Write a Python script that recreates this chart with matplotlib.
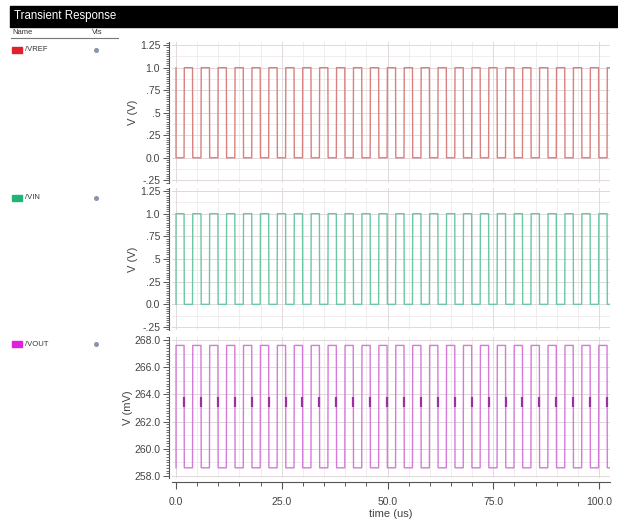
import matplotlib
matplotlib.use("Agg")
import matplotlib.pyplot as plt
from matplotlib.patches import Rectangle
from matplotlib.ticker import MultipleLocator, FuncFormatter

# toggle times of the clock edges (us)
edge_times = [1.9, 3.9, 5.9, 7.9, 9.9, 11.9, 13.9, 15.9, 17.9, 19.9,
              21.9, 23.9, 25.9, 27.9, 29.9, 31.9, 33.9, 35.9, 37.9, 39.9,
              41.9, 43.9, 45.9, 47.9, 49.9, 51.9, 53.9, 55.9, 57.9, 59.9,
              61.9, 63.9, 65.9, 67.9, 69.9, 71.9, 73.9, 75.9, 77.9, 79.9,
              81.9, 83.9, 85.9, 87.9, 89.9, 91.9, 93.9, 95.9, 97.9, 99.9,
              101.9]
t_end = 102.6

signal_names = ["/VREF", "/VIN", "/VOUT"]
signal_levels = [(1.0, 0.0), (0.0, 1.0), (258.6, 267.6)]  # (start level, first level after t=0)
line_colors = ["#d98080", "#6cc7a4", "#d67ad9"]
legend_colors = ["#e0202a", "#1fb576", "#e020e0"]
y_labels = ["V (V)", "V (V)", "V (mV)"]
y_limits = [(-0.28, 1.285), (-0.283, 1.283), (257.85, 268.22)]
glitch_level = (263.1, 263.8)

W, H = 618, 522
RISE = 0.06


def square_wave(start, first, edges, end):
    ts = [0.0, 0.0]
    vs = [start, first]
    cur, other = first, start
    for e in edges:
        ts += [e, e + RISE]
        vs += [cur, other]
        cur, other = other, cur
    ts.append(end)
    vs.append(cur)
    return ts, vs


def fmt_volt(v, pos):
    if abs(v) < 1e-9:
        return "0.0"
    if abs(v - 1.0) < 1e-9:
        return "1.0"
    if abs(v - 1.25) < 1e-9:
        return "1.25"
    s = ("%.2f" % v).rstrip("0")
    return s.replace("0.", ".")


def fig_rect(left, top, right, bottom):
    return [left / W, 1 - bottom / H, (right - left) / W, (bottom - top) / H]


fig = plt.figure(figsize=(W / 100, H / 100), dpi=100)
plt.rcParams["font.family"] = ["Liberation Sans", "DejaVu Sans"]

# header bar
fig.add_artist(Rectangle((10 / W, 1 - 27 / H), (W - 10) / W, 21 / H,
                         transform=fig.transFigure, color="black"))
fig.text(14 / W, 1 - 16.5 / H, "Transient Response", color="white",
         fontsize=8.3, va="center", ha="left")
fig.text(12 / W, 1 - 32 / H, "Name", fontsize=5.5, va="center", color="#333")
fig.text(92 / W, 1 - 32 / H, "Vis", fontsize=5.5, va="center", color="#333")
fig.add_artist(plt.Line2D([11 / W, 118 / W], [1 - 38 / H, 1 - 38 / H],
                          transform=fig.transFigure, color="#777", lw=0.8))

panel_rows = [(42, 183), (188, 330), (337, 478)]
legend_y = [49.5, 197.5, 344]

axes = []
for i, name in enumerate(signal_names):
    top, bottom = panel_rows[i]
    ax = fig.add_axes(fig_rect(172, top, 610, bottom))
    axes.append(ax)
    start, first = signal_levels[i]
    ts, vs = square_wave(start, first, edge_times, t_end)
    ax.plot(ts, vs, color=line_colors[i], lw=1.0)

    ax.set_xlim(-0.95, t_end)
    ax.set_ylim(*y_limits[i])
    ax.xaxis.set_major_locator(MultipleLocator(25))
    ax.xaxis.set_minor_locator(MultipleLocator(5))
    if i < 2:
        ax.yaxis.set_major_locator(MultipleLocator(0.25))
        ax.yaxis.set_minor_locator(MultipleLocator(0.025))
        ax.yaxis.set_major_formatter(FuncFormatter(fmt_volt))
        minor_step = 0.125
    else:
        ax.yaxis.set_major_locator(MultipleLocator(2))
        ax.yaxis.set_minor_locator(MultipleLocator(0.2))
        ax.yaxis.set_major_formatter(FuncFormatter(lambda v, p: "%.1f" % v))
        minor_step = 1.0

    # grid: major lines, plus minor horizontal lines drawn explicitly
    ax.grid(True, which="major", color="#e2dada", lw=0.7)
    ax.grid(True, which="minor", axis="x", color="#eeeaea", lw=0.6)
    lo, hi = y_limits[i]
    k = int(lo / minor_step) - 1
    while k * minor_step <= hi:
        ax.axhline(k * minor_step, color="#eeeaea", lw=0.6, zorder=0)
        k += 1
    ax.set_axisbelow(True)

    for side in ["top", "right"]:
        ax.spines[side].set_visible(False)
    ax.spines["left"].set_position(("outward", 2.5))
    ax.spines["left"].set_color("#555")
    ax.tick_params(axis="y", which="major", length=4, width=0.7, colors="#555",
                   labelsize=7.5, labelcolor="#444", pad=2)
    ax.tick_params(axis="y", which="minor", length=2.5, width=0.6, colors="#555")
    ax.set_ylabel(y_labels[i], fontsize=8, color="#444", labelpad=1)

    if i < 2:
        ax.spines["bottom"].set_visible(False)
        ax.tick_params(axis="x", which="both", bottom=False, labelbottom=False)
    else:
        ax.spines["bottom"].set_position(("outward", 3))
        ax.spines["bottom"].set_color("#555")
        ax.xaxis.set_major_formatter(FuncFormatter(lambda v, p: "%.1f" % v))
        ax.tick_params(axis="x", which="major", length=5, width=0.8, colors="#555",
                       labelsize=7.5, labelcolor="#444", pad=6)
        ax.tick_params(axis="x", which="minor", length=3, width=0.7, colors="#555")
        ax.set_xlabel("time (us)", fontsize=8, color="#444", labelpad=1)
        # dark marks on falling edges of VOUT
        falling = edge_times[0::2]
        ax.vlines(falling, glitch_level[0], glitch_level[1],
                  color="#9b2fa3", lw=1.6)

    # legend entry on the left
    ly = legend_y[i]
    fig.add_artist(Rectangle((12 / W, 1 - (ly + 3) / H), 10 / W, 6 / H,
                             transform=fig.transFigure, color=legend_colors[i]))
    fig.text(25 / W, 1 - ly / H, name, fontsize=5.5, va="center", color="#333")
    fig.add_artist(plt.Line2D([96 / W], [1 - ly / H], marker="o", markersize=2.6,
                              color="#8a94b0", transform=fig.transFigure))

fig.savefig("out.png", dpi=100)
